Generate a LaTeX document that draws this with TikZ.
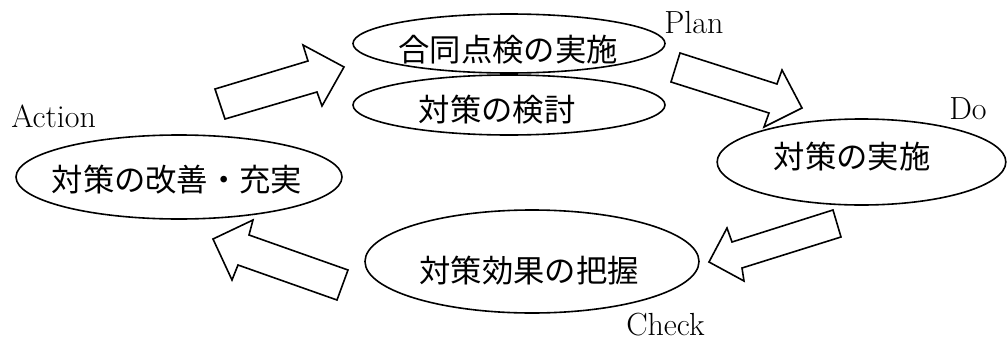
\documentclass[tikz,border=0pt]{standalone}
\usepackage{fontspec}
\newfontfamily\cjk{Noto Sans CJK JP}
\usetikzlibrary{shapes.geometric}
\begin{document}
\begin{tikzpicture}[x=0.75pt,y=-0.75pt,
  oval/.style={draw,ellipse,line width=1.2pt,inner sep=0pt},
  jtext/.style={font=\cjk\fontsize{23.5}{26}\selectfont,inner sep=0pt},
  ltext/.style={font=\fontsize{24}{28}\selectfont,inner sep=0pt,anchor=base west},
  blockarrow/.style={draw,line width=1.2pt,line join=miter,fill=white}]
\useasboundingbox (0,0) rectangle (1008,343);
% ellipses
\node[oval,minimum width=234pt,minimum height=44.25pt] (e1) at (509,43.5) {};
\node[oval,minimum width=234pt,minimum height=45pt] (e2) at (509,105) {};
\node[oval,minimum width=216.5pt,minimum height=64.5pt] (e3) at (861.5,162) {};
\node[oval,minimum width=250.5pt,minimum height=77.25pt] (e4) at (532,261.5) {};
\node[oval,minimum width=244.5pt,minimum height=63pt] (e5) at (179,177) {};
% texts
\node[jtext] (t1) at (508,50) {合同点検の実施};
\node[jtext] (t2) at (497,110) {対策の検討};
\node[jtext] (t3) at (852,157) {対策の実施};
\node[jtext] (t4) at (529,271) {対策効果の把握};
\node[jtext] (t5) at (177,180) {対策の改善・充実};
% labels
\node[ltext] (plan) at (664,33) {Plan};
\node[ltext] (do) at (949,119) {Do};
\node[ltext] (check) at (626,335) {Check};
\node[ltext] (action) at (11,127) {Action};
% block arrows
\draw[blockarrow] (225,119) -- (215,89) -- (308,61) -- (303,45) -- (344,67) -- (322,106) -- (317,92) -- cycle;
\draw[blockarrow] (680,53) -- (777,84) -- (782,70) -- (802,108) -- (764,127) -- (769,113) -- (671,82) -- cycle;
\draw[blockarrow] (833,210) -- (841,237) -- (742,268) -- (744,281) -- (709,262) -- (727,228) -- (732,242) -- cycle;
\draw[blockarrow] (348,270) -- (337,300) -- (238,265) -- (232,280) -- (213,239) -- (253,220) -- (249,235) -- cycle;
\end{tikzpicture}
\end{document}
